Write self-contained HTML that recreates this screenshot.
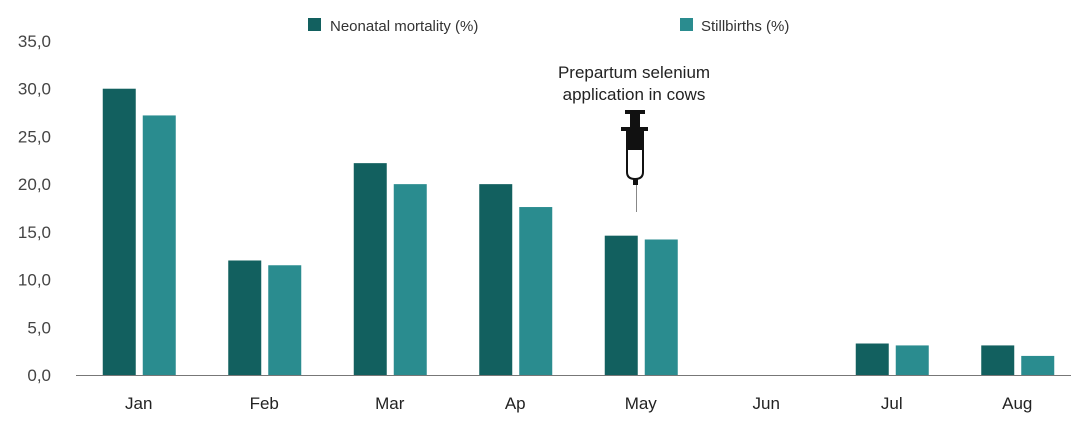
<!DOCTYPE html>
<html><head><meta charset="utf-8"><style>
body{margin:0;background:#fff;}
svg{display:block;font-family:"Liberation Sans",sans-serif;}
</style></head><body>
<svg width="1071" height="429">
<g id="legend">
 <rect x="308" y="18" width="13" height="13" fill="#12605f"/>
 <text x="330" y="31" font-size="15" fill="#333">Neonatal mortality (%)</text>
 <rect x="680" y="18" width="13" height="13" fill="#2a8c8f"/>
 <text x="701" y="31" font-size="15" fill="#333">Stillbirths (%)</text>
</g>
<g id="yaxis"></g>
<g id="bars"></g>
<g id="xaxis"></g>
<line x1="76" y1="375.5" x2="1071" y2="375.5" stroke="#777" stroke-width="1"/>
<g>
 <text x="634" y="78" font-size="17" fill="#222" text-anchor="middle">Prepartum selenium</text>
 <text x="634" y="100" font-size="17" fill="#222" text-anchor="middle">application in cows</text>
 <g>
  <rect x="625" y="110" width="20" height="4" fill="#111"/>
  <rect x="630" y="113" width="10" height="15" fill="#111"/>
  <rect x="621" y="127" width="27" height="4" fill="#111"/>
  <path d="M627 131 H643 V172 Q643 179 635 179 Q627 179 627 172 Z" fill="#fff" stroke="#111" stroke-width="2"/>
  <rect x="627" y="131" width="16" height="19" fill="#111"/>
  <rect x="633" y="178" width="5" height="7" fill="#111"/>
  <line x1="636.5" y1="185" x2="636.5" y2="212" stroke="#888" stroke-width="1"/>
 </g>
</g>
</svg>
<script>
const categories=["Jan","Feb","Mar","Ap","May","Jun","Jul","Aug"];
const neonatal=[30.0,12.0,22.2,20.0,14.6,0,3.3,3.1];
const stillbirths=[27.2,11.5,20.0,17.6,14.2,0,3.1,2.0];
const yTicks=[0,5,10,15,20,25,30,35];
const yTickLabels=["0,0","5,0","10,0","15,0","20,0","25,0","30,0","35,0"];
const NS="http://www.w3.org/2000/svg";
const y0=375,yTop=41,yMax=35,x0=76,band=125.5;
function y(v){return y0-(v/yMax)*(y0-yTop);}
function xc(i){return x0+band*(i+0.5);}
const ya=document.getElementById('yaxis');
yTicks.forEach((t,i)=>{
 const tx=document.createElementNS(NS,'text');
 tx.setAttribute('x',51);tx.setAttribute('y',y(t)+6);
 tx.setAttribute('text-anchor','end');tx.setAttribute('font-size','17');tx.setAttribute('fill','#444');
 tx.textContent=yTickLabels[i];
 
 
 ya.appendChild(tx);
});
const bg=document.getElementById('bars'),xa=document.getElementById('xaxis');
categories.forEach((c,i)=>{
 const c1=xc(i);
 [[neonatal[i],'#12605f',c1-36,'bar-neonatal'],[stillbirths[i],'#2a8c8f',c1+4,'bar-stillbirths']].forEach(([v,col,x,n])=>{
  const r=document.createElementNS(NS,'rect');
  r.setAttribute('x',x);r.setAttribute('width',33);
  r.setAttribute('y',y(v));r.setAttribute('height',y0-y(v));r.setAttribute('fill',col);
  
  
  bg.appendChild(r);
 });
 const t=document.createElementNS(NS,'text');
 t.setAttribute('x',c1);t.setAttribute('y',409);t.setAttribute('text-anchor','middle');
 t.setAttribute('font-size','17');t.setAttribute('fill','#222');t.textContent=c;
 
 
 xa.appendChild(t);
});
</script>
</body></html>
